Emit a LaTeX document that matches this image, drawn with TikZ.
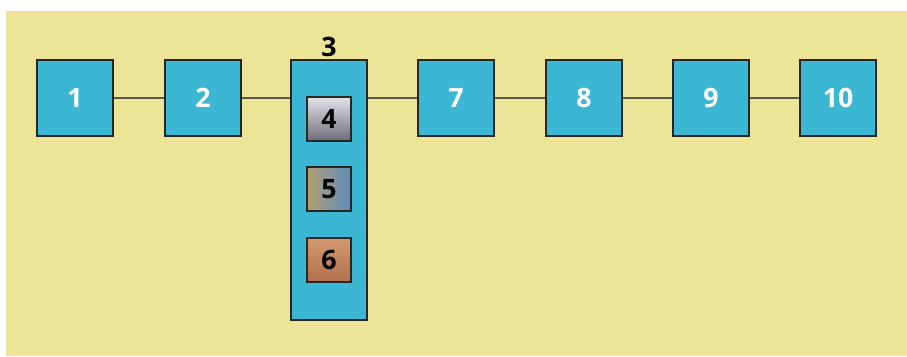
\documentclass[tikz,border=0pt]{standalone}
\usepackage{fontspec}
\setmainfont{Open Sans}
\usetikzlibrary{positioning}
\definecolor{sand}{HTML}{ECE497}
\definecolor{teal}{HTML}{3BB7D3}
\definecolor{wire}{HTML}{5A5A4A}
\definecolor{steeltop}{HTML}{E4E2E8}
\definecolor{steelbot}{HTML}{6E6C78}
\definecolor{brasstan}{HTML}{B0A070}
\definecolor{slateblue}{HTML}{5F8DBE}
\definecolor{woodlight}{HTML}{D49A70}
\definecolor{wooddark}{HTML}{B0704A}
\tikzset{
    stage diagram/.style = {x=0.025cm, y=-0.025cm},
    line/.style          = {thick, draw=wire},
    box/.style           = {draw=black!85, line width=1.6pt, fill=teal,
                            minimum width=1.9cm, minimum height=1.9cm,
                            inner sep=0pt, text=white,
                            font=\fontsize{19}{22}\selectfont\bfseries},
    tallbox/.style       = {box, minimum height=6.5cm},
    chip/.style          = {draw=black!85, line width=1.4pt,
                            minimum width=1.1cm, minimum height=1.1cm,
                            inner sep=0pt, text=black,
                            font=\fontsize{19}{22}\selectfont\bfseries}
}
\begin{document}
\begin{tikzpicture}[stage diagram]
\useasboundingbox (0,0) rectangle (907,356);
\fill[white] (0,0) rectangle (907,356);
\fill[sand] (6,11) rectangle (907,356);

\node[box] (s1) at (75,98) {1};
\node[box] (s2) at (203,98) {2};
\node[tallbox,label={[text=black,font=\fontsize{19}{22}\selectfont\bfseries,
    inner sep=1pt]above:3}] (s3) at (329,190) {};
\node[box] (s7) at (456,98) {7};
\node[box] (s8) at (584,98) {8};
\node[box] (s9) at (711,98) {9};
\node[box] (s10) at (838,98) {10};

% parts inside stage 3
\node[chip,top color=steeltop,bottom color=steelbot] (s4) at (329,119) {4};
\node[chip,left color=brasstan,right color=slateblue] (s5) at (329,189) {5};
\node[chip,top color=woodlight,bottom color=wooddark] (s6) at (329,260) {6};

\draw[line] (s1.east) -- (s2.west);
\draw[line] (s2.east) -- (s2.east -| s3.west);
\draw[line] (s7.west -| s3.east) -- (s7.west);
\foreach \a/\b in {s7/s8,s8/s9,s9/s10}
    \draw[line] (\a.east) -- (\b.west);
\end{tikzpicture}
\end{document}
